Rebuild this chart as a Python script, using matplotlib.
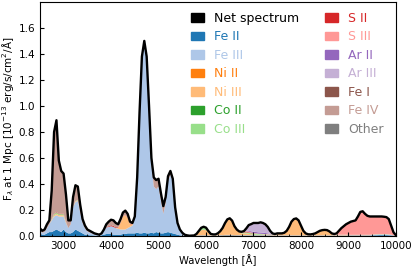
import numpy as np
import matplotlib
matplotlib.use("Agg")
import matplotlib.pyplot as plt
from matplotlib.patches import Patch
from matplotlib.ticker import MultipleLocator

# wavelength grid [A], 50 A steps from 2500 to 10000
wave = list(range(2500, 10001, 50))

# flux per species [1e-13 erg/s/cm^2/A], one line per 1000 A
fe2 = [0.02, 0.01, 0.01, 0.02, 0.03, 0.03, 0.04, 0.05, 0.04, 0.03, 0.05, 0.03, 0.02, 0.02, 0.03, 0.05, 0.04, 0.03, 0.02, 0.01,
       0.01, 0.005, 0.005, 0.003, 0.003, 0.003, 0.005, 0.01, 0.015, 0.015, 0.015, 0.01, 0.01, 0.01, 0.01, 0.015, 0.015, 0.02, 0.02, 0.02,
       0.02, 0.025, 0.02, 0.02, 0.025, 0.02, 0.02, 0.025, 0.02, 0.03, 0.025, 0.02, 0.02, 0.025, 0.03, 0.025, 0.02, 0.015, 0.01, 0.005,
       0.003, 0.002, 0.001, 0.001, 0.001, 0.001, 0.002, 0.003, 0.003, 0.003, 0.003, 0.002, 0.002, 0.002, 0.002, 0.002, 0.003, 0.003, 0.004, 0.004,
       0.004, 0.004, 0.003, 0.003, 0.003, 0.003, 0.003, 0.003, 0.003, 0.003, 0.003, 0.003, 0.003, 0.003, 0.003, 0.003, 0.003, 0.003, 0.002, 0.002,
       0.002, 0.002, 0.002, 0.002, 0.002, 0.002, 0.002, 0.002, 0.002, 0.002, 0.002, 0.002, 0.002, 0.002, 0.002, 0.002, 0.002, 0.002, 0.002, 0.002,
       0.002, 0.002, 0.002, 0.002, 0.002, 0.002, 0.002, 0.002, 0.002, 0.002, 0.003, 0.003, 0.003, 0.003, 0.003, 0.003, 0.003, 0.003, 0.003, 0.003,
       0.004, 0.005, 0.005, 0.006, 0.006, 0.006, 0.006, 0.005, 0.004, 0.002, 0.001]
fe3 = [0.02, 0.015, 0.02, 0.04, 0.06, 0.09, 0.11, 0.11, 0.11, 0.12, 0.10, 0.07, 0.04, 0.07, 0.19, 0.21, 0.23, 0.15, 0.08, 0.05,
       0.025, 0.02, 0.015, 0.009, 0.007, 0.003, 0.01, 0.03, 0.05, 0.055, 0.06, 0.06, 0.05, 0.045, 0.04, 0.035, 0.035, 0.04, 0.05, 0.06,
       0.12, 0.415, 0.92, 1.35, 1.465, 1.35, 0.96, 0.525, 0.36, 0.33, 0.355, 0.25, 0.15, 0.225, 0.39, 0.445, 0.40, 0.195, 0.085, 0.04,
       0.017, 0.006, 0.003, 0.001, 0.001, 0.001, 0.001, 0.001, 0.001, 0.001, 0.002, 0.002, 0.002, 0.002, 0.002, 0.002, 0.002, 0.002, 0.002, 0.002,
       0.002, 0.002, 0.002, 0.002, 0.002, 0.002, 0.002, 0.002, 0.002, 0.002, 0.002, 0.002, 0.002, 0.002, 0.002, 0.002, 0.002, 0.002, 0.002, 0.002,
       0.002, 0.002, 0.002, 0.002, 0.002, 0.002, 0.002, 0.002, 0.002, 0.002, 0.002, 0.002, 0.002, 0.002, 0.002, 0.002, 0.002, 0.002, 0.002, 0.002,
       0.002, 0.002, 0.002, 0.002, 0.002, 0.002, 0.002, 0.002, 0.002, 0.002, 0.002, 0.002, 0.002, 0.002, 0.002, 0.002, 0.002, 0.002, 0.002, 0.002,
       0.004, 0.005, 0.006, 0.006, 0.006, 0.006, 0.006, 0.005, 0.004, 0.002, 0.001]
ni2 = [0, 0, 0, 0, 0, 0, 0, 0, 0, 0, 0, 0, 0, 0, 0, 0, 0, 0, 0, 0,
       0, 0, 0, 0, 0, 0, 0, 0, 0, 0, 0, 0, 0, 0, 0, 0, 0, 0, 0, 0,
       0, 0, 0, 0, 0, 0, 0, 0, 0, 0, 0, 0, 0, 0, 0, 0, 0, 0, 0, 0,
       0, 0, 0, 0, 0, 0, 0, 0, 0, 0, 0, 0, 0, 0, 0, 0, 0, 0.002, 0.003, 0.004,
       0.004, 0.003, 0.002, 0.001, 0, 0, 0, 0, 0, 0, 0, 0, 0, 0, 0, 0, 0, 0, 0, 0,
       0, 0, 0, 0, 0, 0, 0, 0, 0, 0, 0, 0, 0, 0, 0, 0, 0, 0, 0, 0,
       0, 0, 0, 0, 0, 0, 0, 0, 0, 0, 0, 0, 0, 0, 0, 0, 0, 0, 0, 0,
       0, 0, 0, 0, 0, 0, 0, 0, 0, 0, 0]
ni3 = [0, 0, 0, 0, 0, 0.005, 0.01, 0.01, 0.01, 0.01, 0.01, 0.005, 0, 0, 0.005, 0.005, 0.005, 0, 0, 0,
       0, 0, 0, 0, 0, 0, 0, 0, 0, 0, 0, 0, 0, 0.01, 0.05, 0.10, 0.11, 0.08, 0.02, 0.01,
       0, 0, 0, 0, 0, 0, 0, 0, 0, 0, 0, 0, 0, 0, 0, 0, 0, 0, 0, 0,
       0, 0, 0, 0, 0, 0, 0.008, 0.025, 0.04, 0.045, 0.04, 0.025, 0.008, 0.005, 0.005, 0.013, 0.025, 0.045, 0.08, 0.11,
       0.12, 0.105, 0.065, 0.04, 0.025, 0.015, 0.015, 0.015, 0.012, 0.008, 0.005, 0.005, 0.005, 0.005, 0.005, 0.005, 0.005, 0.005, 0.005, 0.005,
       0.012, 0.012, 0.013, 0.018, 0.033, 0.064, 0.104, 0.124, 0.129, 0.114, 0.074, 0.034, 0.014, 0.007, 0.006, 0.009, 0.014, 0.024, 0.034, 0.039,
       0.041, 0.039, 0.028, 0.012, 0.006, 0.005, 0.005, 0.005, 0.005, 0.005, 0.003, 0.003, 0.003, 0.003, 0.003, 0.003, 0.003, 0.003, 0.003, 0.003,
       0.002, 0.002, 0.002, 0.002, 0.002, 0.002, 0.002, 0.002, 0.002, 0.001, 0]
co2 = [0, 0, 0, 0, 0, 0, 0, 0, 0, 0, 0, 0, 0, 0, 0, 0, 0, 0, 0, 0,
       0, 0, 0, 0, 0, 0, 0, 0, 0, 0, 0, 0, 0, 0, 0, 0, 0, 0, 0, 0,
       0, 0, 0, 0, 0, 0, 0, 0, 0, 0, 0, 0, 0, 0, 0, 0, 0, 0, 0, 0,
       0, 0, 0, 0, 0, 0, 0, 0, 0.001, 0.002, 0.002, 0.001, 0, 0, 0, 0, 0, 0, 0, 0,
       0, 0, 0, 0, 0, 0, 0, 0, 0, 0, 0, 0, 0, 0, 0, 0, 0, 0, 0, 0,
       0, 0, 0, 0, 0, 0, 0, 0, 0, 0, 0, 0, 0, 0, 0, 0, 0, 0, 0, 0,
       0, 0, 0, 0, 0, 0, 0, 0, 0, 0, 0, 0, 0, 0, 0, 0, 0, 0, 0, 0,
       0, 0, 0, 0, 0, 0, 0, 0, 0, 0, 0]
co3 = [0, 0, 0, 0, 0, 0.003, 0.008, 0.01, 0.008, 0.008, 0.008, 0.003, 0, 0, 0, 0.003, 0.003, 0, 0, 0,
       0, 0, 0, 0, 0, 0, 0, 0, 0, 0, 0, 0, 0, 0, 0, 0, 0, 0, 0, 0,
       0, 0, 0, 0, 0, 0, 0, 0, 0, 0, 0, 0, 0, 0, 0, 0, 0, 0, 0, 0,
       0, 0, 0, 0, 0.001, 0.002, 0.005, 0.01, 0.018, 0.02, 0.017, 0.008, 0.004, 0.003, 0.003, 0.004, 0.007, 0.01, 0.01, 0.008,
       0.006, 0.004, 0.003, 0.003, 0.003, 0.004, 0.006, 0.008, 0.008, 0.008, 0.008, 0.008, 0.006, 0.005, 0.004, 0.003, 0.002, 0.002, 0.002, 0.002,
       0.001, 0.001, 0.001, 0.001, 0.001, 0.001, 0.001, 0.001, 0.001, 0.001, 0.001, 0.001, 0.001, 0.001, 0.001, 0.001, 0.001, 0.001, 0.001, 0.001,
       0.001, 0.001, 0.001, 0.001, 0.001, 0.001, 0.001, 0.001, 0.001, 0.001, 0.001, 0.001, 0.001, 0.001, 0.001, 0.001, 0.001, 0.001, 0.001, 0.001,
       0.001, 0.001, 0.001, 0.001, 0.001, 0.001, 0.001, 0.001, 0.001, 0, 0]
s2 = [0, 0, 0, 0, 0, 0, 0.003, 0.004, 0.004, 0.004, 0.004, 0.002, 0, 0, 0, 0, 0, 0, 0, 0,
      0, 0, 0, 0, 0, 0, 0, 0, 0.003, 0.005, 0.008, 0.008, 0.006, 0.004, 0.003, 0.002, 0.002, 0.002, 0.002, 0.002,
      0, 0, 0, 0, 0, 0, 0, 0, 0, 0, 0, 0, 0, 0, 0, 0, 0, 0, 0, 0,
      0, 0, 0, 0, 0, 0, 0, 0, 0, 0, 0, 0, 0, 0, 0, 0, 0, 0, 0, 0,
      0, 0, 0, 0, 0, 0.002, 0.003, 0.004, 0.004, 0.003, 0.002, 0.001, 0, 0, 0, 0, 0, 0, 0, 0,
      0, 0, 0, 0, 0, 0, 0, 0, 0, 0, 0, 0, 0, 0, 0, 0, 0, 0, 0, 0,
      0, 0, 0, 0, 0, 0, 0, 0, 0, 0, 0, 0, 0, 0, 0, 0, 0, 0, 0, 0,
      0, 0, 0, 0, 0, 0, 0, 0, 0, 0, 0]
s3 = [0, 0, 0, 0, 0, 0, 0, 0, 0, 0, 0, 0, 0, 0, 0, 0, 0, 0, 0, 0,
      0, 0, 0, 0, 0, 0, 0, 0, 0, 0, 0, 0, 0, 0, 0, 0, 0, 0, 0, 0,
      0, 0, 0, 0, 0, 0, 0, 0, 0, 0, 0, 0, 0, 0, 0, 0, 0, 0, 0, 0,
      0, 0, 0, 0, 0, 0, 0, 0, 0, 0, 0, 0, 0, 0, 0, 0, 0, 0, 0, 0,
      0, 0, 0, 0, 0.002, 0.003, 0.004, 0.005, 0.005, 0.004, 0.003, 0.002, 0.002, 0.002, 0.002, 0.002, 0.002, 0.001, 0.001, 0.001,
      0, 0, 0, 0, 0, 0, 0, 0, 0, 0, 0.001, 0.001, 0.001, 0.001, 0.001, 0.001, 0.001, 0.001, 0.001, 0.001,
      0.001, 0.001, 0.002, 0.003, 0.004, 0.01, 0.03, 0.05, 0.065, 0.08, 0.091, 0.101, 0.106, 0.111, 0.141, 0.176, 0.181, 0.161, 0.146, 0.141,
      0.139, 0.137, 0.136, 0.135, 0.135, 0.133, 0.130, 0.117, 0.069, 0.023, 0.004]
ar2 = [0, 0, 0, 0, 0, 0, 0, 0, 0, 0, 0, 0, 0, 0, 0, 0, 0, 0, 0, 0,
       0, 0, 0, 0, 0, 0, 0, 0, 0, 0, 0, 0, 0, 0, 0, 0, 0, 0, 0, 0,
       0, 0, 0, 0, 0, 0, 0, 0, 0, 0, 0, 0, 0, 0, 0, 0, 0, 0, 0, 0,
       0, 0, 0, 0, 0, 0, 0, 0, 0, 0, 0, 0, 0, 0, 0, 0, 0, 0, 0, 0,
       0, 0, 0, 0, 0, 0, 0, 0.002, 0.005, 0.008, 0.01, 0.01, 0.01, 0.01, 0.01, 0.008, 0.006, 0.003, 0.001, 0,
       0, 0, 0, 0, 0, 0, 0, 0, 0, 0, 0, 0, 0, 0, 0, 0, 0, 0, 0, 0,
       0, 0, 0, 0, 0, 0, 0, 0, 0, 0, 0, 0, 0, 0, 0, 0, 0, 0, 0, 0,
       0, 0, 0, 0, 0, 0, 0, 0, 0, 0, 0]
ar3 = [0, 0, 0, 0, 0, 0, 0, 0, 0, 0, 0, 0, 0, 0, 0, 0, 0, 0, 0, 0,
       0, 0, 0, 0, 0, 0, 0, 0, 0, 0, 0, 0, 0, 0, 0, 0, 0, 0, 0, 0,
       0, 0, 0, 0, 0, 0, 0, 0, 0, 0, 0, 0, 0, 0, 0, 0, 0, 0, 0, 0,
       0, 0, 0, 0, 0, 0, 0, 0, 0, 0, 0, 0, 0, 0, 0, 0, 0, 0, 0, 0,
       0, 0, 0, 0, 0, 0.003, 0.005, 0.02, 0.045, 0.055, 0.067, 0.069, 0.072, 0.078, 0.074, 0.067, 0.05, 0.024, 0.007, 0.003,
       0.003, 0.003, 0.002, 0.002, 0.002, 0.001, 0.001, 0.001, 0.001, 0.001, 0, 0, 0, 0, 0, 0, 0, 0, 0, 0,
       0, 0, 0, 0, 0, 0, 0, 0, 0, 0, 0, 0, 0, 0, 0, 0, 0, 0, 0, 0,
       0, 0, 0, 0, 0, 0, 0, 0, 0, 0, 0]
fe1 = [0, 0, 0, 0, 0, 0, 0, 0, 0, 0, 0, 0, 0, 0, 0, 0, 0, 0, 0, 0,
       0, 0, 0, 0, 0, 0, 0, 0, 0, 0, 0, 0, 0, 0, 0, 0, 0, 0, 0, 0,
       0, 0, 0, 0, 0, 0, 0, 0, 0, 0, 0, 0, 0, 0, 0, 0, 0, 0, 0, 0,
       0, 0, 0, 0, 0, 0, 0, 0, 0, 0, 0, 0, 0, 0, 0, 0, 0, 0, 0, 0,
       0, 0, 0, 0, 0, 0, 0, 0, 0, 0, 0, 0, 0, 0, 0, 0, 0, 0, 0, 0,
       0, 0, 0, 0, 0, 0, 0, 0, 0, 0, 0, 0, 0, 0, 0, 0, 0, 0, 0, 0,
       0, 0, 0, 0, 0, 0, 0, 0, 0, 0, 0, 0, 0, 0, 0, 0, 0, 0, 0, 0,
       0, 0, 0, 0, 0, 0, 0, 0, 0, 0, 0]
fe4 = [0.02, 0.015, 0.02, 0.03, 0.03, 0.222, 0.626, 0.701, 0.398, 0.318, 0.298, 0.205, 0.06, 0.03, 0.075, 0.122, 0.102, 0.06, 0.03, 0.02,
       0.015, 0.015, 0.01, 0.008, 0.005, 0.004, 0.005, 0.01, 0.022, 0.035, 0.042, 0.042, 0.034, 0.021, 0.027, 0.028, 0.033, 0.028, 0.018, 0.008,
       0.01, 0.01, 0.01, 0.01, 0.01, 0.01, 0.02, 0.05, 0.07, 0.07, 0.06, 0.06, 0.06, 0.05, 0.04, 0.03, 0.02, 0.01, 0.005, 0.005,
       0.005, 0.002, 0.001, 0, 0, 0, 0, 0, 0, 0, 0, 0, 0, 0, 0, 0, 0, 0, 0, 0,
       0, 0, 0, 0, 0, 0, 0, 0, 0, 0, 0, 0, 0, 0, 0, 0, 0, 0, 0, 0,
       0, 0, 0, 0, 0, 0, 0, 0, 0, 0, 0, 0, 0, 0, 0, 0, 0, 0, 0, 0,
       0, 0, 0, 0, 0, 0, 0, 0, 0, 0, 0, 0, 0, 0, 0, 0, 0, 0, 0, 0,
       0, 0, 0, 0, 0, 0, 0, 0, 0, 0, 0]
other = [0, 0, 0, 0, 0, 0, 0.003, 0.005, 0.01, 0.01, 0.01, 0.005, 0, 0, 0, 0, 0, 0, 0, 0,
         0, 0, 0, 0, 0, 0, 0, 0, 0, 0, 0, 0, 0, 0, 0, 0, 0, 0, 0, 0,
         0, 0, 0, 0, 0, 0, 0, 0, 0, 0, 0, 0, 0, 0, 0, 0, 0, 0, 0, 0,
         0, 0, 0, 0, 0, 0, 0, 0, 0, 0, 0, 0, 0, 0, 0, 0, 0, 0, 0, 0,
         0, 0, 0, 0, 0, 0, 0, 0, 0, 0, 0, 0, 0, 0, 0, 0, 0, 0, 0, 0,
         0, 0, 0, 0, 0, 0, 0, 0, 0, 0, 0, 0, 0, 0, 0, 0, 0, 0, 0, 0,
         0, 0, 0, 0, 0, 0, 0, 0, 0, 0, 0, 0, 0, 0, 0, 0, 0, 0, 0, 0,
         0, 0, 0, 0, 0, 0, 0, 0, 0, 0, 0]

labels = ["Fe II", "Fe III", "Ni II", "Ni III", "Co II", "Co III",
          "S II", "S III", "Ar II", "Ar III", "Fe I", "Fe IV", "Other"]
series = [fe2, fe3, ni2, ni3, co2, co3, s2, s3, ar2, ar3, fe1, fe4, other]
colors = list(plt.get_cmap("tab20").colors[:12]) + ["#7f7f7f"]

w = np.array(wave, dtype=float)
ys = np.array(series, dtype=float)
net = ys.sum(axis=0)

fig = plt.figure(figsize=(4.15, 2.70), dpi=100)
ax = fig.add_axes([0.096, 0.126, 0.858, 0.867])

ax.stackplot(w, ys, colors=colors, lw=0)
ax.plot(w, net, color="black", lw=1.7, solid_joinstyle="round")

ax.set_xlim(2500, 10000)
ax.set_ylim(0, 1.8)
ax.xaxis.set_major_locator(MultipleLocator(1000))
ax.xaxis.set_minor_locator(MultipleLocator(250))
ax.set_yticks([0.0, 0.2, 0.4, 0.6, 0.8, 1.0, 1.2, 1.4, 1.6])
ax.tick_params(axis="both", which="both", direction="in", labelsize=7.5)
ax.tick_params(which="major", length=3)
ax.tick_params(which="minor", length=1.5)
ax.set_xlabel("Wavelength [Å]", fontsize=7.2, labelpad=2)
ax.set_ylabel(r"F$_\lambda$ at 1 Mpc [10$^{-13}$ erg/s/cm$^2$/Å]", fontsize=7.5, labelpad=1.5)

# legend: net spectrum first, then the species; label text in series colour
leg_handles = [Patch(color="black")] + [Patch(color=c) for c in colors]
leg_labels = ["Net spectrum"] + labels
leg = ax.legend(leg_handles, leg_labels, ncol=2, loc="upper right", bbox_to_anchor=(0.966, 0.958),
                fontsize=9, frameon=False, borderaxespad=0, borderpad=0,
                handlelength=1.04, handleheight=0.65, handletextpad=0.8, columnspacing=2.08,
                labelspacing=0.44)
for txt, c in zip(leg.get_texts(), ["black"] + colors):
    txt.set_color(c)

fig.savefig("out.png", dpi=100)
